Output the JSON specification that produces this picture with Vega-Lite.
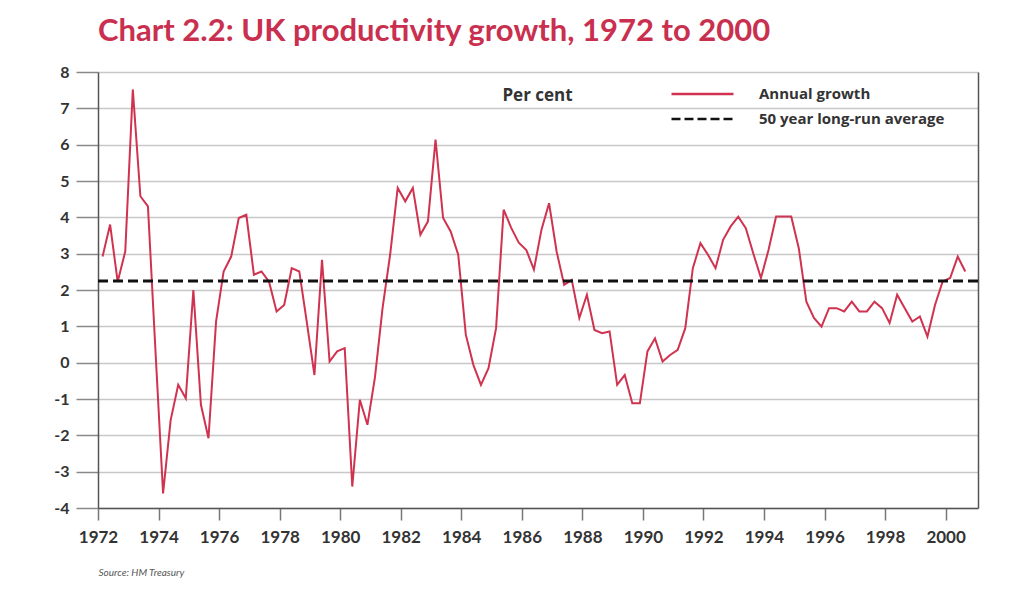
{
  "$schema": "https://vega.github.io/schema/vega-lite/v6.json",
  "width": 880,
  "height": 436,
  "autosize": {"type": "none"},
  "padding": {"left": 98, "top": 72, "right": 43, "bottom": 85},
  "background": "white",
  "title": {
    "text": "Chart 2.2: UK productivity growth, 1972 to 2000",
    "anchor": "start",
    "frame": "group",
    "font": "Lato",
    "fontSize": 31,
    "fontWeight": "bold",
    "color": "#c9304f",
    "offset": 16
  },
  "config": {
    "view": {"stroke": null},
    "font": "Lato"
  },
  "datasets": {
    "growth": [
      {"t": 1972.15, "v": 2.92}, {"t": 1972.40, "v": 3.80}, {"t": 1972.65, "v": 2.23}, {"t": 1972.90, "v": 3.06},
      {"t": 1973.15, "v": 7.52}, {"t": 1973.40, "v": 4.58}, {"t": 1973.65, "v": 4.30}, {"t": 1973.90, "v": 0.30},
      {"t": 1974.15, "v": -3.60}, {"t": 1974.40, "v": -1.58}, {"t": 1974.65, "v": -0.61}, {"t": 1974.90, "v": -0.98},
      {"t": 1975.15, "v": 2.00}, {"t": 1975.40, "v": -1.16}, {"t": 1975.65, "v": -2.08}, {"t": 1975.90, "v": 1.13},
      {"t": 1976.15, "v": 2.51}, {"t": 1976.40, "v": 2.92}, {"t": 1976.65, "v": 3.98}, {"t": 1976.90, "v": 4.07},
      {"t": 1977.15, "v": 2.42}, {"t": 1977.40, "v": 2.51}, {"t": 1977.65, "v": 2.23}, {"t": 1977.90, "v": 1.41},
      {"t": 1978.15, "v": 1.59}, {"t": 1978.40, "v": 2.60}, {"t": 1978.65, "v": 2.51}, {"t": 1978.90, "v": 1.10},
      {"t": 1979.15, "v": -0.34}, {"t": 1979.40, "v": 2.83}, {"t": 1979.65, "v": 0.03}, {"t": 1979.90, "v": 0.31},
      {"t": 1980.15, "v": 0.40}, {"t": 1980.40, "v": -3.41}, {"t": 1980.65, "v": -1.02}, {"t": 1980.90, "v": -1.71},
      {"t": 1981.15, "v": -0.40}, {"t": 1981.40, "v": 1.50}, {"t": 1981.65, "v": 2.97}, {"t": 1981.90, "v": 4.81},
      {"t": 1982.15, "v": 4.44}, {"t": 1982.40, "v": 4.81}, {"t": 1982.65, "v": 3.52}, {"t": 1982.90, "v": 3.89},
      {"t": 1983.15, "v": 6.14}, {"t": 1983.40, "v": 3.98}, {"t": 1983.65, "v": 3.61}, {"t": 1983.90, "v": 2.97},
      {"t": 1984.15, "v": 0.77}, {"t": 1984.40, "v": -0.06}, {"t": 1984.65, "v": -0.61}, {"t": 1984.90, "v": -0.15},
      {"t": 1985.15, "v": 0.95}, {"t": 1985.40, "v": 4.21}, {"t": 1985.65, "v": 3.71}, {"t": 1985.90, "v": 3.30},
      {"t": 1986.15, "v": 3.10}, {"t": 1986.40, "v": 2.56}, {"t": 1986.65, "v": 3.66}, {"t": 1986.90, "v": 4.39},
      {"t": 1987.15, "v": 3.06}, {"t": 1987.40, "v": 2.14}, {"t": 1987.65, "v": 2.28}, {"t": 1987.90, "v": 1.23},
      {"t": 1988.15, "v": 1.87}, {"t": 1988.40, "v": 0.90}, {"t": 1988.65, "v": 0.81}, {"t": 1988.90, "v": 0.86},
      {"t": 1989.15, "v": -0.61}, {"t": 1989.40, "v": -0.34}, {"t": 1989.65, "v": -1.12}, {"t": 1989.90, "v": -1.12},
      {"t": 1990.15, "v": 0.31}, {"t": 1990.40, "v": 0.67}, {"t": 1990.65, "v": 0.03}, {"t": 1990.90, "v": 0.21},
      {"t": 1991.15, "v": 0.35}, {"t": 1991.40, "v": 0.95}, {"t": 1991.65, "v": 2.60}, {"t": 1991.90, "v": 3.29},
      {"t": 1992.15, "v": 2.97}, {"t": 1992.40, "v": 2.60}, {"t": 1992.65, "v": 3.38}, {"t": 1992.90, "v": 3.75},
      {"t": 1993.15, "v": 4.02}, {"t": 1993.40, "v": 3.70}, {"t": 1993.65, "v": 3.00}, {"t": 1993.90, "v": 2.33},
      {"t": 1994.15, "v": 3.10}, {"t": 1994.40, "v": 4.02}, {"t": 1994.65, "v": 4.02}, {"t": 1994.90, "v": 4.02},
      {"t": 1995.15, "v": 3.15}, {"t": 1995.40, "v": 1.68}, {"t": 1995.65, "v": 1.23}, {"t": 1995.90, "v": 0.99},
      {"t": 1996.15, "v": 1.50}, {"t": 1996.40, "v": 1.50}, {"t": 1996.65, "v": 1.41}, {"t": 1996.90, "v": 1.68},
      {"t": 1997.15, "v": 1.41}, {"t": 1997.40, "v": 1.41}, {"t": 1997.65, "v": 1.68}, {"t": 1997.90, "v": 1.50},
      {"t": 1998.15, "v": 1.09}, {"t": 1998.40, "v": 1.87}, {"t": 1998.65, "v": 1.50}, {"t": 1998.90, "v": 1.13},
      {"t": 1999.15, "v": 1.27}, {"t": 1999.40, "v": 0.72}, {"t": 1999.65, "v": 1.59}, {"t": 1999.90, "v": 2.23},
      {"t": 2000.15, "v": 2.33}, {"t": 2000.40, "v": 2.92}, {"t": 2000.65, "v": 2.51}
    ],
    "average": [{"avg": 2.25}]
  },
  "resolve": {"axis": {"y": "independent"}},
  "layer": [
    {
      "data": {"name": "growth"},
      "mark": {"type": "line", "strokeWidth": 2, "clip": true},
      "encoding": {
        "x": {
          "field": "t",
          "type": "quantitative",
          "scale": {"domain": [1972, 2001.07], "nice": false, "zero": false},
          "axis": {
            "values": [1972, 1974, 1976, 1978, 1980, 1982, 1984, 1986, 1988, 1990, 1992, 1994, 1996, 1998, 2000],
            "format": "d",
            "labelOverlap": false,
            "labelBound": false,
            "labelFlush": false,
            "grid": false,
            "tickSize": 12,
            "tickColor": "#777777",
            "tickWidth": 1.5,
            "domainColor": "#555555",
            "domainWidth": 1.5,
            "labelFont": "Lato",
            "labelFontSize": 17,
            "labelFontWeight": "bold",
            "labelColor": "#333333",
            "labelPadding": 9,
            "title": "Source: HM Treasury",
            "titleAnchor": "start",
            "titleFont": "Lato",
            "titleFontSize": 10,
            "titleFontStyle": "italic",
            "titleFontWeight": "normal",
            "titleColor": "#555555",
            "titlePadding": 22
          }
        },
        "y": {
          "field": "v",
          "type": "quantitative",
          "scale": {"domain": [-4, 8], "nice": false, "zero": false},
          "axis": {
            "orient": "left",
            "values": [-4, -3, -2, -1, 0, 1, 2, 3, 4, 5, 6, 7, 8],
            "labelExpr": "'' + datum.value",
            "grid": true,
            "gridColor": "#c8c8c8",
            "gridWidth": 1.5,
            "tickSize": 22,
            "tickColor": "#888888",
            "tickWidth": 1.5,
            "domainColor": "#555555",
            "domainWidth": 1.5,
            "labelFont": "Lato",
            "labelFontSize": 16,
            "labelFontWeight": "bold",
            "labelColor": "#333333",
            "labelPadding": 7,
            "title": "Per cent",
            "titleAngle": 0,
            "titleX": 439,
            "titleY": 23,
            "titleAlign": "center",
            "titleBaseline": "middle",
            "titleFont": "Open Sans",
            "titleFontSize": 17,
            "titleFontWeight": "bold",
            "titleColor": "#333333"
          }
        },
        "color": {
          "datum": "Annual growth",
          "type": "nominal",
          "scale": {"domain": ["Annual growth", "50 year long-run average"], "range": ["#d0334f", "#111111"]},
          "legend": {
            "title": null,
            "orient": "none",
            "legendX": 572,
            "legendY": 14,
            "symbolType": "stroke",
            "symbolSize": 3844,
            "symbolStrokeWidth": 2.5,
            "clipHeight": 16,
            "rowPadding": 9,
            "labelOffset": 24,
            "labelLimit": 400,
            "labelFont": "Open Sans",
            "labelFontSize": 15,
            "labelFontWeight": "bold",
            "labelColor": "#333333",
            "padding": 0,
            "encode": {
              "symbols": {
                "update": {
                  "strokeDash": {"signal": "datum.label === '50 year long-run average' ? [9, 4] : [1, 0]"}
                }
              }
            }
          }
        }
      }
    },
    {
      "data": {"name": "average"},
      "mark": {"type": "rule", "strokeWidth": 3, "strokeDash": [10, 5]},
      "encoding": {
        "y": {
          "field": "avg",
          "type": "quantitative",
          "axis": {
            "orient": "right",
            "labels": false,
            "ticks": false,
            "grid": false,
            "title": null,
            "domainColor": "#555555",
            "domainWidth": 1.5
          }
        },
        "color": {"datum": "50 year long-run average", "type": "nominal"}
      }
    }
  ]
}
